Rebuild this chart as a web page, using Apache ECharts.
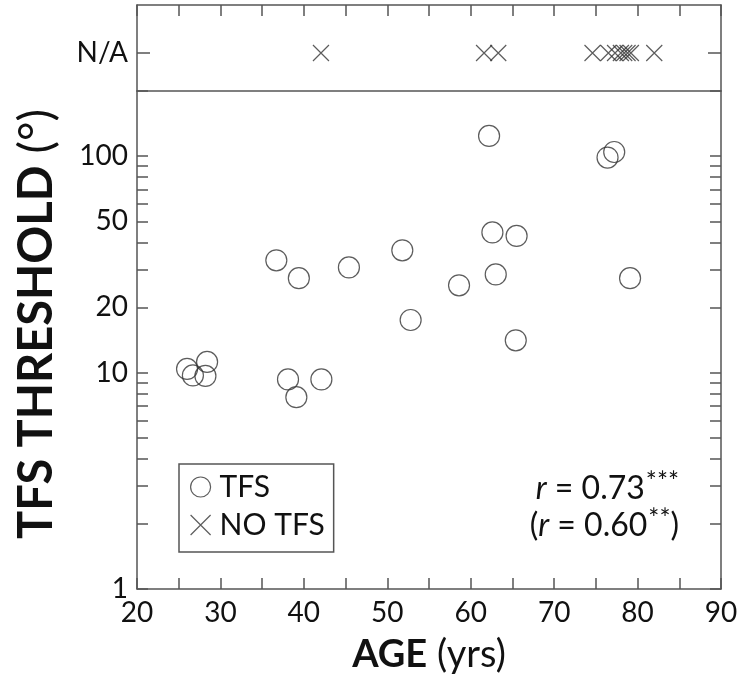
<!DOCTYPE html>
<html>
<head>
<meta charset="utf-8">
<script src="https://cdn.jsdelivr.net/npm/echarts@6/dist/echarts.min.js"></script>
<style>
html,body{margin:0;padding:0;background:#fff;}
#chart{width:744px;height:687px;}
</style>
</head>
<body>
<div id="chart"></div>
<script>
// ---- data ----
const tfsAge = [62.2, 77.2, 76.4, 62.6, 65.5, 36.7, 51.8, 39.4, 45.4, 63.0, 58.6, 79.1, 52.8, 65.4, 26.0, 28.4, 26.7, 28.2, 38.1, 42.1, 39.1];
const tfsThreshold = [124, 104.5, 98.5, 44.4, 42.8, 33.0, 36.7, 27.3, 30.6, 28.4, 25.3, 27.3, 17.5, 14.1, 10.4, 11.2, 9.7, 9.65, 9.3, 9.3, 7.7];
const noTfsAge = [42.05, 61.6, 63.3, 74.6, 76.5, 77.3, 78.0, 78.4, 78.8, 79.2, 82.0];
const naCategory = ['N/A'];
const yLabelValues = [1, 10, 20, 50, 100];
const yTickValues = [1, 2, 3, 4, 5, 6, 7, 8, 9, 10, 20, 30, 40, 50, 60, 70, 80, 90, 100, 200];
const xLabelValues = [20, 30, 40, 50, 60, 70, 80, 90];
const seriesNames = ['TFS', 'NO TFS'];

const FONT = 'Lato, "Open Sans", sans-serif';
const LINE = '#555';
const INK = '#111';
const crossPath = 'path://M0,0L10,10M10,0L0,10';

const lineStyle = {color: LINE, width: 1.5};
const tickStyle = {show: true, inside: true, length: 11, lineStyle: {color: LINE, width: 1.5}};
const naTick = {show: true, inside: true, length: 13, alignWithLabel: true, lineStyle: {color: LINE, width: 1.5}};

const chart = echarts.init(document.getElementById('chart'), null, {renderer: 'canvas'});

const option = {
  backgroundColor: '#fff',
  animation: false,
  textStyle: {fontFamily: FONT},
  grid: [
    {left: 137, right: 23, top: 5, height: 86},   // top panel frame
    {left: 137, right: 23, top: 91, bottom: 98},  // main log panel
    {left: 137, right: 23, top: 15, height: 76}   // N/A row placement
  ],
  xAxis: [
    {gridIndex: 0, type: 'value', position: 'top', min: 20, max: 90, interval: 5,
      axisLine: {show: true, onZero: false, lineStyle: lineStyle}, axisTick: tickStyle,
      axisLabel: {show: false}, splitLine: {show: false}},
    {gridIndex: 1, type: 'value', position: 'top', min: 20, max: 90, interval: 5,
      axisLine: {show: true, onZero: false, lineStyle: lineStyle}, axisTick: {show: false},
      axisLabel: {show: false}, splitLine: {show: false}},
    {gridIndex: 1, type: 'value', position: 'bottom', min: 20, max: 90, interval: 5,
      axisLine: {show: true, onZero: false, lineStyle: lineStyle}, axisTick: tickStyle,
      axisLabel: {show: true, margin: 10, color: INK, fontSize: 28, fontFamily: FONT,
        formatter: v => (xLabelValues.indexOf(v) >= 0 ? String(v) : '')},
      splitLine: {show: false},
      name: '{b|AGE} (yrs)', nameLocation: 'middle', nameGap: 47,
      nameTextStyle: {color: INK, fontSize: 38, fontFamily: FONT,
        rich: {b: {fontWeight: 'bold', fontSize: 38, fontFamily: FONT, color: INK}}}},
    {gridIndex: 2, type: 'value', position: 'bottom', min: 20, max: 90, interval: 5,
      axisLine: {show: false, onZero: false}, axisTick: {show: false}, axisLabel: {show: false}, splitLine: {show: false}}
  ],
  yAxis: [
    {gridIndex: 0, type: 'value', position: 'left', min: 0, max: 1,
      axisLine: {show: true, onZero: false, lineStyle: lineStyle}, axisTick: {show: false},
      axisLabel: {show: false}, splitLine: {show: false}},
    {gridIndex: 0, type: 'value', position: 'right', min: 0, max: 1,
      axisLine: {show: true, onZero: false, lineStyle: lineStyle}, axisTick: {show: false},
      axisLabel: {show: false}, splitLine: {show: false}},
    {gridIndex: 1, type: 'log', logBase: 10, position: 'left', min: 1, max: 200,
      axisLine: {show: true, onZero: false, lineStyle: lineStyle},
      axisTick: {show: true, inside: true, length: 11, customValues: yTickValues, lineStyle: {color: LINE, width: 1.5}},
      axisLabel: {show: true, margin: 9, color: INK, fontSize: 28, fontFamily: FONT, customValues: yLabelValues},
      minorTick: {show: false}, splitLine: {show: false}},
    {gridIndex: 1, type: 'log', logBase: 10, position: 'right', min: 1, max: 200,
      axisLine: {show: true, onZero: false, lineStyle: lineStyle},
      axisTick: {show: true, inside: true, length: 11, customValues: yTickValues, lineStyle: {color: LINE, width: 1.5}},
      axisLabel: {show: false}, minorTick: {show: false}, splitLine: {show: false}},
    {gridIndex: 2, type: 'category', position: 'left', data: naCategory,
      axisLine: {show: false, onZero: false}, axisTick: naTick,
      axisLabel: {show: true, margin: 9, color: INK, fontSize: 28, fontFamily: FONT},
      splitLine: {show: false}},
    {gridIndex: 2, type: 'category', position: 'right', data: naCategory,
      axisLine: {show: false, onZero: false}, axisTick: naTick,
      axisLabel: {show: false}, splitLine: {show: false}}
  ],
  legend: {
    show: true, orient: 'vertical', left: 179, top: 464,
    padding: [4, 9, 8, 11], itemGap: 0, itemWidth: 20, itemHeight: 20,
    borderColor: LINE, borderWidth: 1.5,
    textStyle: {color: INK, fontSize: 30, fontFamily: FONT, lineHeight: 38, padding: [0, 0, 0, 4]},
    data: [
      {name: seriesNames[0], icon: 'circle', itemStyle: {color: 'transparent', borderColor: '#333', borderWidth: 1.2}},
      {name: seriesNames[1], icon: crossPath, itemStyle: {color: 'transparent', borderColor: '#333', borderWidth: 1.2}}
    ]
  },
  graphic: [
    {type: 'text', x: 37, y: 324, rotation: Math.PI / 2,
      style: {text: '{b|TFS THRESHOLD} (°)', textAlign: 'center', textVerticalAlign: 'middle',
        fill: INK, fontSize: 47, fontFamily: FONT,
        rich: {b: {fontWeight: 'bold', fontSize: 47, fontFamily: FONT, fill: INK}}}},
    {type: 'text', x: 679, y: 470,
      style: {text: '{i|r} = 0.73{s|***}\n({i|r} = 0.60{s|**})', textAlign: 'right', textVerticalAlign: 'top',
        fill: INK, fontSize: 32, fontFamily: FONT, lineHeight: 37,
        rich: {
          i: {fontStyle: 'italic', fontSize: 32, fontFamily: FONT, fill: INK, lineHeight: 37},
          s: {fontSize: 26, fontFamily: FONT, fill: INK, lineHeight: 37, verticalAlign: 'top', padding: [0, 0, 0, 1]}
        }}}
  ],
  series: [
    {name: seriesNames[0], type: 'scatter', xAxisIndex: 2, yAxisIndex: 2,
      symbol: 'circle', symbolSize: 21,
      itemStyle: {color: 'transparent', borderColor: '#333', borderWidth: 1.2},
      emphasis: {disabled: true},
      data: tfsAge.map((a, i) => [a, tfsThreshold[i]])},
    {name: seriesNames[1], type: 'scatter', xAxisIndex: 3, yAxisIndex: 4,
      symbol: crossPath, symbolSize: 16,
      itemStyle: {color: 'transparent', borderColor: '#333', borderWidth: 1.2},
      emphasis: {disabled: true},
      data: noTfsAge.map(a => [a, naCategory[0]])}
  ]
};
chart.setOption(option);
</script>
</body>
</html>
